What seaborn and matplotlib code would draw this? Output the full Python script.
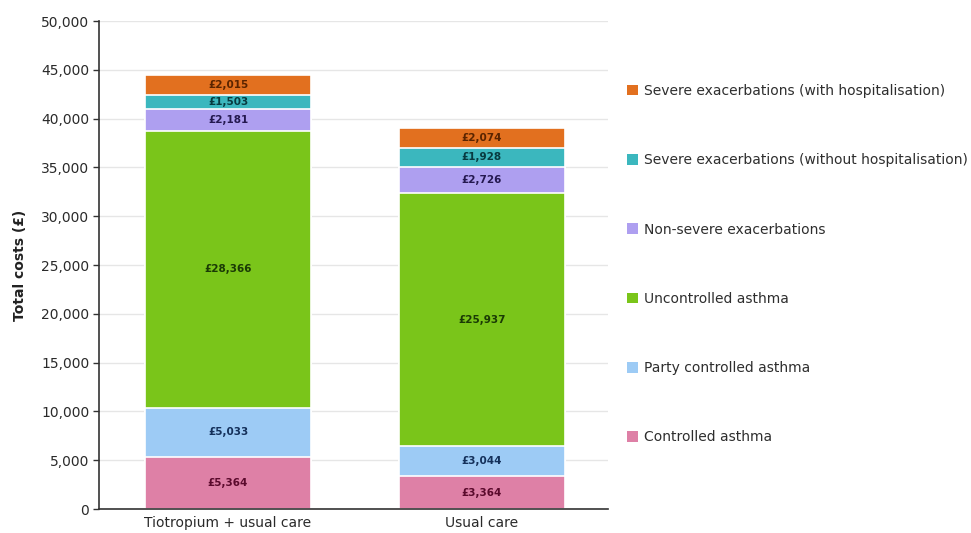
import numpy as np
import pandas as pd
import matplotlib
matplotlib.use("Agg")
import matplotlib.pyplot as plt
from matplotlib.patches import Patch
from matplotlib.ticker import FuncFormatter
import seaborn as sns

# Treatment arms
arms = ["Tiotropium + usual care", "Usual care"]

# Cost components, bottom to top of each stack
components = [
    "Controlled asthma",
    "Party controlled asthma",
    "Uncontrolled asthma",
    "Non-severe exacerbations",
    "Severe exacerbations (without hospitalisation)",
    "Severe exacerbations (with hospitalisation)",
]

controlled = [5364, 3364]
partly_controlled = [5033, 3044]
uncontrolled = [28366, 25937]
non_severe = [2181, 2726]
severe_no_hosp = [1503, 1928]
severe_hosp = [2015, 2074]

values = [controlled, partly_controlled, uncontrolled, non_severe,
          severe_no_hosp, severe_hosp]

fill_colors = ["#DE80A6", "#9DCBF5", "#7AC51A", "#AE9FF0", "#3BB7BE", "#E2701F"]
text_colors = ["#5A0A2C", "#14305A", "#1A3A05", "#24184F", "#083A40", "#5A2400"]

sns.set_theme(style="white")
plt.rcParams["font.family"] = ["DejaVu Sans"]

fig = plt.figure(figsize=(9.71, 5.33), dpi=100)
ax = fig.add_axes([0.102, 0.045, 0.524, 0.9155])

vals = np.array(values, dtype=float)
tops = vals.cumsum(axis=0)
bottoms = tops - vals

# Draw cumulative totals from the top layer down so each layer covers the one above it
for i in range(len(components) - 1, -1, -1):
    df = pd.DataFrame({"arm": arms, "total": tops[i]})
    sns.barplot(data=df, x="arm", y="total", color=fill_colors[i], saturation=1,
                width=0.655, edgecolor="white", linewidth=1.2, ax=ax, zorder=2)

# Value labels at segment centres
for i in range(len(components)):
    for j in range(len(arms)):
        ax.text(j, bottoms[i, j] + vals[i, j] / 2, f"£{int(vals[i, j]):,}",
                ha="center", va="center", fontsize=7.5, fontweight="bold",
                color=text_colors[i], zorder=3)

ax.set_xlim(-0.508, 1.496)
ax.set_ylim(0, 50000)
ax.set_yticks(np.arange(0, 50001, 5000))
ax.yaxis.set_major_formatter(FuncFormatter(lambda v, p: f"{int(v):,}"))
ax.grid(axis="y", color="#E6E6E6", linewidth=1, zorder=0)
ax.set_axisbelow(True)

for s in ["top", "right"]:
    ax.spines[s].set_visible(False)
for s in ["left", "bottom"]:
    ax.spines[s].set_color("#333333")
    ax.spines[s].set_linewidth(1.2)

ax.tick_params(axis="y", length=4, width=1, color="#333333", labelsize=10,
               labelcolor="#2A2A2A", pad=3, left=True)
ax.tick_params(axis="x", length=0, labelsize=10, labelcolor="#2A2A2A", pad=5)
ax.set_xlabel("")
ax.set_ylabel("Total costs (£)", fontsize=10, fontweight="bold", color="#222222",
              labelpad=10)

handles = [Patch(facecolor=c, edgecolor="none") for c in fill_colors[::-1]]
fig.legend(handles, components[::-1], loc="upper left",
           bbox_to_anchor=(627 / 971, 1 - 84 / 533), frameon=False,
           fontsize=10, labelcolor="#2E2E2E", handlelength=0.8, handleheight=0.8,
           handletextpad=0.42, labelspacing=3.98, borderpad=0, borderaxespad=0)

fig.savefig("out.png", dpi=100, facecolor="white")
